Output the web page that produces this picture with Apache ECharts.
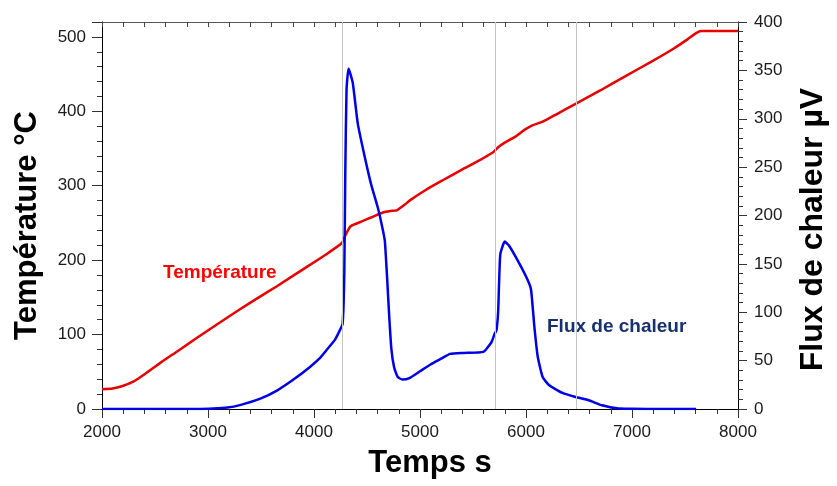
<!DOCTYPE html>
<html><head><meta charset="utf-8">
<script src="https://cdn.jsdelivr.net/npm/echarts@6/dist/echarts.min.js"></script>
<style>html,body{margin:0;padding:0;background:#fff}#c{width:837px;height:486px}</style>
</head><body><div id="c"></div>
<script>
// Temperature curve (°C, left axis)
const tempTime = [2000,2100,2187,2300,2405,2550,2716,2900,3183,3400,3650,3900,4117,4263,4285,4320,4350,4450,4550,4650,4720,4780,4850,4911,5050,5223,5400,5534,5690,5740,5800,5900,5985,6060,6157,6300,6468,6700,6935,7200,7402,7526,7605,7650,7700,8000];
const tempValues = [26.5,27.5,30.5,37,47,62,78,96,123,143,165,188,208,223,230,240,246,252,258,264,266,267,274,281,294,308,322,332,345,352,358,366,375,381,386,397,410,428,447,468,485,497,505,508,508,508];
// Heat flux curve (µV, right axis)
const fluxTime = [2000,2900,3050,3183,3300,3494,3650,3806,3962,4050,4117,4200,4242,4270,4286,4295,4307,4326,4366,4413,4478,4537,4600,4640,4668,4690,4710,4730,4756,4790,4833,4900,5000,5100,5200,5284,5410,5597,5674,5705,5721,5737,5746,5758,5799,5845,5939,6017,6048,6079,6111,6157,6219,6344,6468,6593,6717,6873,7000,7300,7605];
const fluxValues = [0,0,0.5,1.5,4,10.7,19,30.4,43.5,52,60.7,72,81,88,140,243,330,352,337,295,261,233,209,190,174,135,95,62,43,33,30.5,32,39,46,52,57,58,59,69,78,81,100,130,160,173,168,150,133,123,85,54,33,24.5,16.6,12.4,9,3.8,0.4,0.2,0,0];
// Vertical reference lines (s)
const markerTimes = [4263, 5714, 6474];
// Axis settings
const xMin = 2000, xMax = 8000, xStep = 1000;
const tMin = 0, tMax = 520, tStep = 100;
const fMin = 0, fMax = 400, fStep = 50;

const FONT = '"Liberation Sans", Arial, sans-serif';
const zip = (a, b) => a.map((v, i) => [v, b[i]]);

const chart = echarts.init(document.getElementById('c'), null, {renderer: 'canvas'});
const labelStyle = {color: '#1a1a1a', fontSize: 17, fontFamily: FONT, formatter: v => String(v)};
chart.setOption({
  animation: false,
  backgroundColor: '#ffffff',
  grid: {left: 102, right: 93, top: 22, bottom: 77},
  xAxis: [{
    type: 'value', position: 'bottom', min: xMin, max: xMax, interval: xStep,
    name: 'Temps s', nameLocation: 'middle', nameGap: 39,
    nameTextStyle: {fontSize: 31, fontWeight: 'bold', color: '#000', fontFamily: FONT, padding: [0, 0, 0, 20]},
    axisLine: {show: true, onZero: false, lineStyle: {color: '#000', width: 1}},
    axisTick: {show: true, inside: false, length: 9, lineStyle: {color: '#333'}},
    minorTick: {show: true, splitNumber: 5, length: 5, lineStyle: {color: '#333'}},
    axisLabel: Object.assign({margin: 15}, labelStyle),
    splitLine: {show: false}
  }, {
    type: 'value', position: 'top', min: xMin, max: xMax, interval: xStep,
    axisLine: {show: true, onZero: false, lineStyle: {color: '#555', width: 1}},
    axisTick: {show: true, inside: true, length: 5, lineStyle: {color: '#444'}},
    minorTick: {show: true, splitNumber: 5, length: 5, lineStyle: {color: '#444'}},
    axisLabel: {show: false},
    splitLine: {show: false}
  }],
  yAxis: [{
    type: 'value', position: 'left', min: tMin, max: tMax, interval: tStep,
    name: 'Température °C', nameLocation: 'middle', nameGap: 59,
    nameTextStyle: {fontSize: 31, fontWeight: 'bold', color: '#000', fontFamily: FONT, padding: [0, 20, 0, 0]},
    axisLine: {show: true, onZero: false, lineStyle: {color: '#000', width: 1}},
    axisTick: {show: true, inside: false, length: 10, lineStyle: {color: '#333'}},
    minorTick: {show: true, splitNumber: 5, length: 5, lineStyle: {color: '#333'}},
    axisLabel: Object.assign({margin: 16, showMaxLabel: false}, labelStyle),
    splitLine: {show: false}
  }, {
    type: 'value', position: 'right', min: fMin, max: fMax, interval: fStep,
    name: 'Flux de chaleur µV', nameLocation: 'middle', nameGap: 59,
    nameTextStyle: {fontSize: 32, fontWeight: 'bold', color: '#000', fontFamily: FONT, padding: [0, 28, 0, 0]},
    axisLine: {show: true, onZero: false, lineStyle: {color: '#000', width: 1}},
    axisTick: {show: true, inside: false, length: 9, lineStyle: {color: '#333'}},
    minorTick: {show: true, splitNumber: 5, length: 5, lineStyle: {color: '#333'}},
    axisLabel: Object.assign({margin: 16}, labelStyle),
    splitLine: {show: false}
  }],
  series: [{
    name: 'Température', type: 'line', xAxisIndex: 0, yAxisIndex: 0,
    data: zip(tempTime, tempValues), showSymbol: false, smooth: 0.2,
    lineStyle: {color: '#e60000', width: 2.5}, z: 3,
    markLine: {
      silent: true, symbol: 'none', label: {show: false},
      lineStyle: {color: '#c4c4c4', width: 1, type: 'solid'},
      data: markerTimes.map(t => ({xAxis: t}))
    }
  }, {
    name: 'Flux de chaleur', type: 'line', xAxisIndex: 0, yAxisIndex: 1,
    data: zip(fluxTime, fluxValues), showSymbol: false, smooth: 0.15,
    lineStyle: {color: '#0000e6', width: 2.5}, z: 4
  }],
  graphic: [{
    type: 'text', left: 163, top: 263,
    style: {text: 'Température', fill: '#ff0000', font: 'bold 19px ' + FONT}
  }, {
    type: 'text', left: 547, top: 317,
    style: {text: 'Flux de chaleur', fill: '#17306e', font: 'bold 19px ' + FONT}
  }]
});
</script>
</body></html>
